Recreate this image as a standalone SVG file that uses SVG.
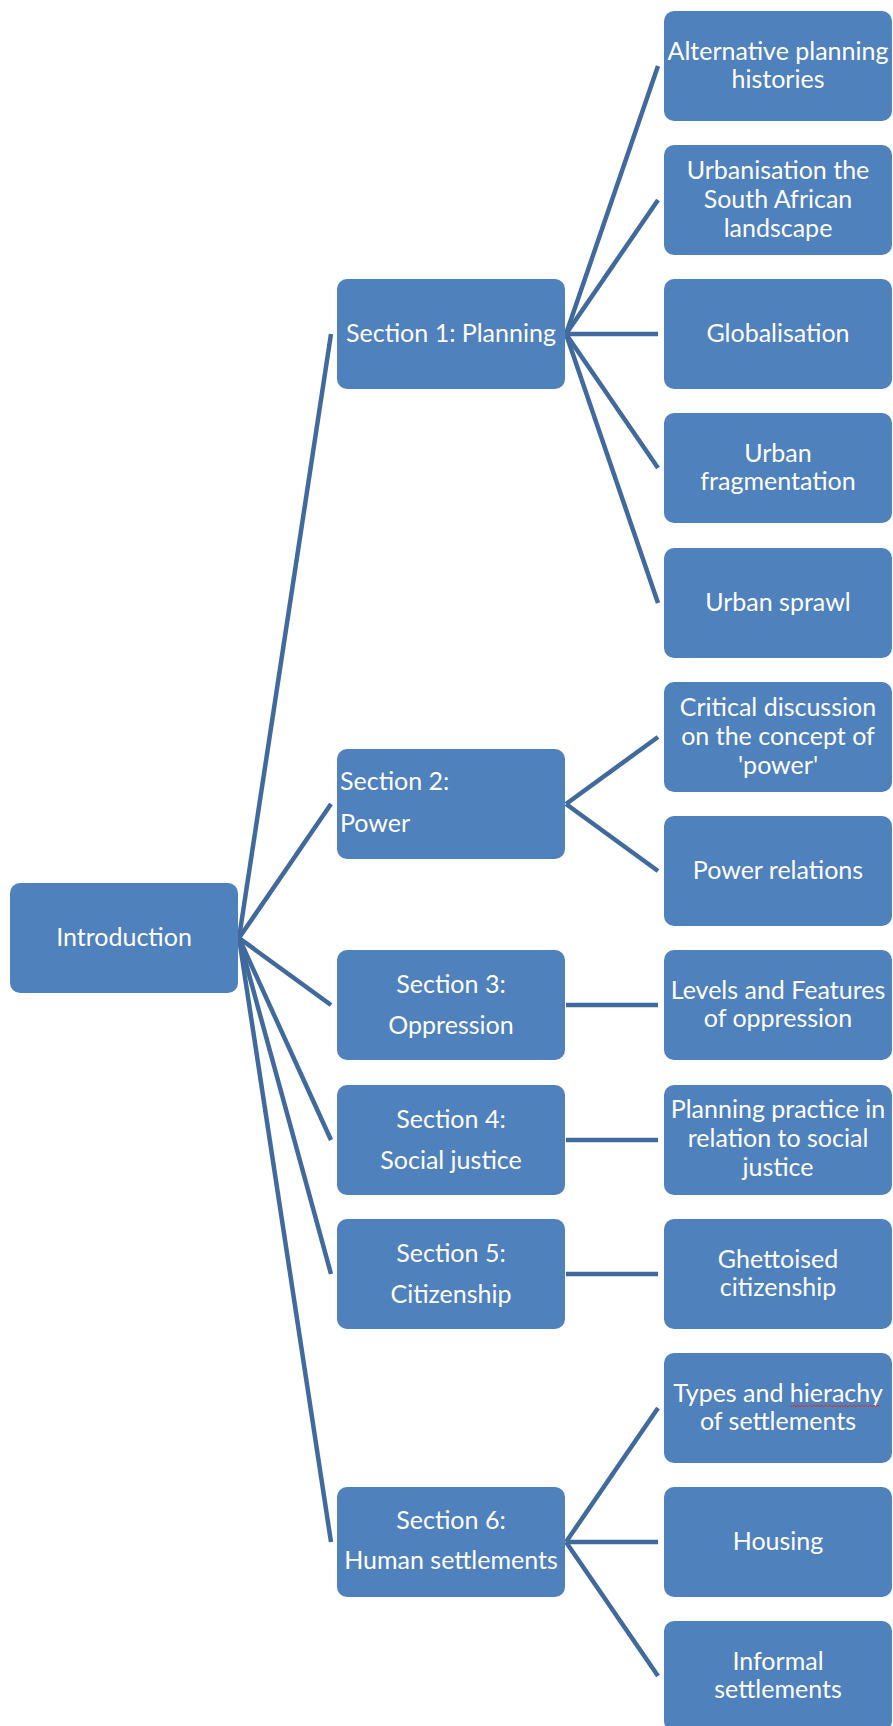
<svg xmlns="http://www.w3.org/2000/svg" width="893" height="1726" viewBox="0 0 893 1726">
  <style>
    .box { fill: #4F81BD; }
    .lbl { font-family: Lato, "Open Sans", sans-serif; font-size: 25px; fill: #FFFFFF; text-anchor: middle; }
    .lbl-left { text-anchor: start; }
    .conn { stroke: #406A9E; stroke-width: 4.5; fill: none; stroke-linecap: butt; }
    .spell { stroke: #E0302A; stroke-width: 1; fill: none; }
  </style>
  <rect width="893" height="1726" fill="#FFFFFF"/>

  <!-- connectors -->
  <g id="connectors">
    <!-- Introduction to sections -->
    <line class="conn" x1="239" y1="938" x2="331" y2="334"/>
    <line class="conn" x1="239" y1="938" x2="331" y2="804"/>
    <line class="conn" x1="239" y1="938" x2="331" y2="1005"/>
    <line class="conn" x1="239" y1="938" x2="331" y2="1140"/>
    <line class="conn" x1="239" y1="938" x2="331" y2="1274"/>
    <line class="conn" x1="239" y1="938" x2="331" y2="1542"/>
    <!-- Section 1 -->
    <line class="conn" x1="566" y1="334" x2="658" y2="66"/>
    <line class="conn" x1="566" y1="334" x2="658" y2="200"/>
    <line class="conn" x1="566" y1="334" x2="658" y2="334"/>
    <line class="conn" x1="566" y1="334" x2="658" y2="468"/>
    <line class="conn" x1="566" y1="334" x2="658" y2="603"/>
    <!-- Section 2 -->
    <line class="conn" x1="566" y1="804" x2="658" y2="737"/>
    <line class="conn" x1="566" y1="804" x2="658" y2="871"/>
    <!-- Sections 3-5 -->
    <line class="conn" x1="566" y1="1005" x2="658" y2="1005"/>
    <line class="conn" x1="566" y1="1140" x2="658" y2="1140"/>
    <line class="conn" x1="566" y1="1274" x2="658" y2="1274"/>
    <!-- Section 6 -->
    <line class="conn" x1="566" y1="1542" x2="658" y2="1408"/>
    <line class="conn" x1="566" y1="1542" x2="658" y2="1542"/>
    <line class="conn" x1="566" y1="1542" x2="658" y2="1676"/>
  </g>

  <!-- root -->
  <g id="introduction">
    <rect class="box" x="10" y="883" width="228" height="110" rx="10"/>
    <text class="lbl" x="124" y="946">Introduction</text>
  </g>

  <!-- sections -->
  <g id="section1">
    <rect class="box" x="337" y="279" width="228" height="110" rx="10"/>
    <text class="lbl" x="451" y="342">Section 1: Planning</text>
  </g>
  <g id="section2">
    <rect class="box" x="337" y="749" width="228" height="110" rx="10"/>
    <text class="lbl lbl-left" x="340" y="790">Section 2:</text>
    <text class="lbl lbl-left" x="340" y="832">Power</text>
  </g>
  <g id="section3">
    <rect class="box" x="337" y="950" width="228" height="110" rx="10"/>
    <text class="lbl" x="451" y="993">Section 3:</text>
    <text class="lbl" x="451" y="1034">Oppression</text>
  </g>
  <g id="section4">
    <rect class="box" x="337" y="1085" width="228" height="110" rx="10"/>
    <text class="lbl" x="451" y="1128">Section 4:</text>
    <text class="lbl" x="451" y="1169">Social justice</text>
  </g>
  <g id="section5">
    <rect class="box" x="337" y="1219" width="228" height="110" rx="10"/>
    <text class="lbl" x="451" y="1262">Section 5:</text>
    <text class="lbl" x="451" y="1303">Citizenship</text>
  </g>
  <g id="section6">
    <rect class="box" x="337" y="1487" width="228" height="110" rx="10"/>
    <text class="lbl" x="451" y="1529">Section 6:</text>
    <text class="lbl" x="451" y="1569">Human settlements</text>
  </g>

  <!-- topics -->
  <g id="topic-alternative-planning">
    <rect class="box" x="664" y="11" width="228" height="110" rx="10"/>
    <text class="lbl" x="778" y="60">Alternative planning</text>
    <text class="lbl" x="778" y="88">histories</text>
  </g>
  <g id="topic-urbanisation">
    <rect class="box" x="664" y="145" width="228" height="110" rx="10"/>
    <text class="lbl" x="778" y="179">Urbanisation the</text>
    <text class="lbl" x="778" y="208">South African</text>
    <text class="lbl" x="778" y="237">landscape</text>
  </g>
  <g id="topic-globalisation">
    <rect class="box" x="664" y="279" width="228" height="110" rx="10"/>
    <text class="lbl" x="778" y="342">Globalisation</text>
  </g>
  <g id="topic-fragmentation">
    <rect class="box" x="664" y="413" width="228" height="110" rx="10"/>
    <text class="lbl" x="778" y="462">Urban</text>
    <text class="lbl" x="778" y="490">fragmentation</text>
  </g>
  <g id="topic-sprawl">
    <rect class="box" x="664" y="548" width="228" height="110" rx="10"/>
    <text class="lbl" x="778" y="611">Urban sprawl</text>
  </g>
  <g id="topic-power-concept">
    <rect class="box" x="664" y="682" width="228" height="110" rx="10"/>
    <text class="lbl" x="778" y="716">Critical discussion</text>
    <text class="lbl" x="778" y="745">on the concept of</text>
    <text class="lbl" x="778" y="774">'power'</text>
  </g>
  <g id="topic-power-relations">
    <rect class="box" x="664" y="816" width="228" height="110" rx="10"/>
    <text class="lbl" x="778" y="879">Power relations</text>
  </g>
  <g id="topic-oppression">
    <rect class="box" x="664" y="950" width="228" height="110" rx="10"/>
    <text class="lbl" x="778" y="999">Levels and Features</text>
    <text class="lbl" x="778" y="1027">of oppression</text>
  </g>
  <g id="topic-social-justice">
    <rect class="box" x="664" y="1085" width="228" height="110" rx="10"/>
    <text class="lbl" x="778" y="1118">Planning practice in</text>
    <text class="lbl" x="778" y="1147">relation to social</text>
    <text class="lbl" x="778" y="1176">justice</text>
  </g>
  <g id="topic-citizenship">
    <rect class="box" x="664" y="1219" width="228" height="110" rx="10"/>
    <text class="lbl" x="778" y="1268">Ghettoised</text>
    <text class="lbl" x="778" y="1296">citizenship</text>
  </g>
  <g id="topic-settlement-types">
    <rect class="box" x="664" y="1353" width="228" height="110" rx="10"/>
    <text class="lbl" x="778" y="1402">Types and hierachy</text>
    <text class="lbl" x="778" y="1430">of settlements</text>
    <path class="spell" d="M790 1405 l2 2 l2 -2 l2 2 l2 -2 l2 2 l2 -2 l2 2 l2 -2 l2 2 l2 -2 l2 2 l2 -2 l2 2 l2 -2 l2 2 l2 -2 l2 2 l2 -2 l2 2 l2 -2 l2 2 l2 -2 l2 2 l2 -2 l2 2 l2 -2 l2 2 l2 -2 l2 2 l2 -2 l2 2 l2 -2 l2 2 l2 -2 l2 2 l2 -2 l2 2 l2 -2 l2 2 l2 -2 l2 2 l2 -2 l2 2 l2 -2 l2 2"/>
  </g>
  <g id="topic-housing">
    <rect class="box" x="664" y="1487" width="228" height="110" rx="10"/>
    <text class="lbl" x="778" y="1550">Housing</text>
  </g>
  <g id="topic-informal">
    <rect class="box" x="664" y="1621" width="228" height="110" rx="10"/>
    <text class="lbl" x="778" y="1670">Informal</text>
    <text class="lbl" x="778" y="1698">settlements</text>
  </g>
</svg>
